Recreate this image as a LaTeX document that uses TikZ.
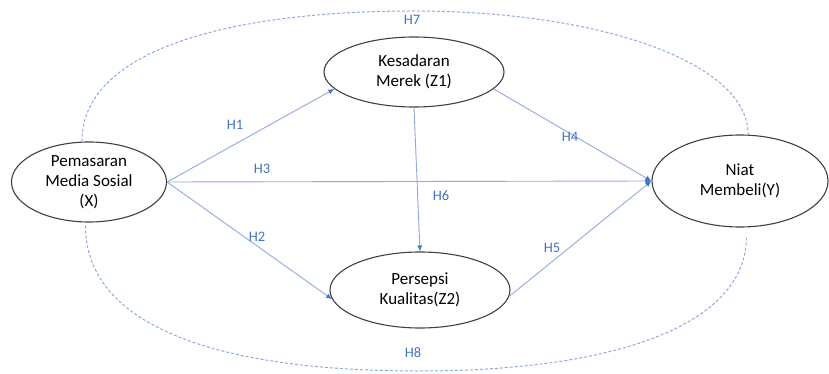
\documentclass[tikz,border=0pt]{standalone}
\usepackage{fontspec}
\setmainfont{Carlito}
\usetikzlibrary{arrows.meta,shapes.geometric}
\definecolor{linkblue}{HTML}{8FAADC}
\definecolor{tipblue}{HTML}{4472C4}
\definecolor{rimgray}{HTML}{404040}

\begin{document}
\begin{tikzpicture}[x=1pt,y=-1pt,
  var/.style={ellipse,draw=rimgray,line width=1.1pt,inner sep=0pt,align=center,
    font=\fontsize{17}{20}\selectfont},
  path/.style={draw=linkblue,line width=0.9pt,-{Latex[length=6pt,width=5pt,color=tipblue]}},
  link/.style={draw=linkblue,line width=1pt,dash pattern=on 3pt off 2pt},
  hyp/.style={text=tipblue,font=\fontsize{14.5}{16}\selectfont}]
  \useasboundingbox (0,0) rectangle (829,374);
  \node[var,minimum width=155,minimum height=80] (x) at (89,182) {Pemasaran\\Media Sosial\\(X)};
  \node[var,minimum width=180,minimum height=70] (z1) at (414,72) {Kesadaran\\Merek (Z1)};
  \node[var,minimum width=180,minimum height=76] (z2) at (420,290) {Persepsi\\Kualitas(Z2)};
  \node[var,minimum width=176,minimum height=92] (y) at (740,181) {Niat\\Membeli(Y)};
  \coordinate (top) at (414,11);
  \coordinate (bot) at (418,371);
  \draw[path] (x.east) -- (z1.192);
  \draw[path] (x.east) -- (z2.186);
  \draw[path] (x.east) -- (y.west);
  \draw[path] (z1.348) -- (y.west);
  \draw[path] (z2.356) -- (y.west);
  \draw[path] (z1.south) -- (z2.north);
  \draw[link] (x.100) .. controls +(0,-92) and +(-184,0) .. (top)
    .. controls +(184,0) and +(0,-73) .. (y.80);
  \draw[link,shorten <=3pt,shorten >=9pt] (x.265) .. controls +(0,103) and +(-202,0) .. (bot)
    .. controls +(202,0) and +(0,96) .. (y.278);
  \node[hyp] (h1) at (235,125) {H1};
  \node[hyp] (h2) at (257,237) {H2};
  \node[hyp] (h3) at (262,169) {H3};
  \node[hyp] (h4) at (570,137) {H4};
  \node[hyp] (h5) at (552,248) {H5};
  \node[hyp] (h6) at (441,196) {H6};
  \node[hyp] (h7) at (412,20) {H7};
  \node[hyp] (h8) at (413,353) {H8};
\end{tikzpicture}
\end{document}
